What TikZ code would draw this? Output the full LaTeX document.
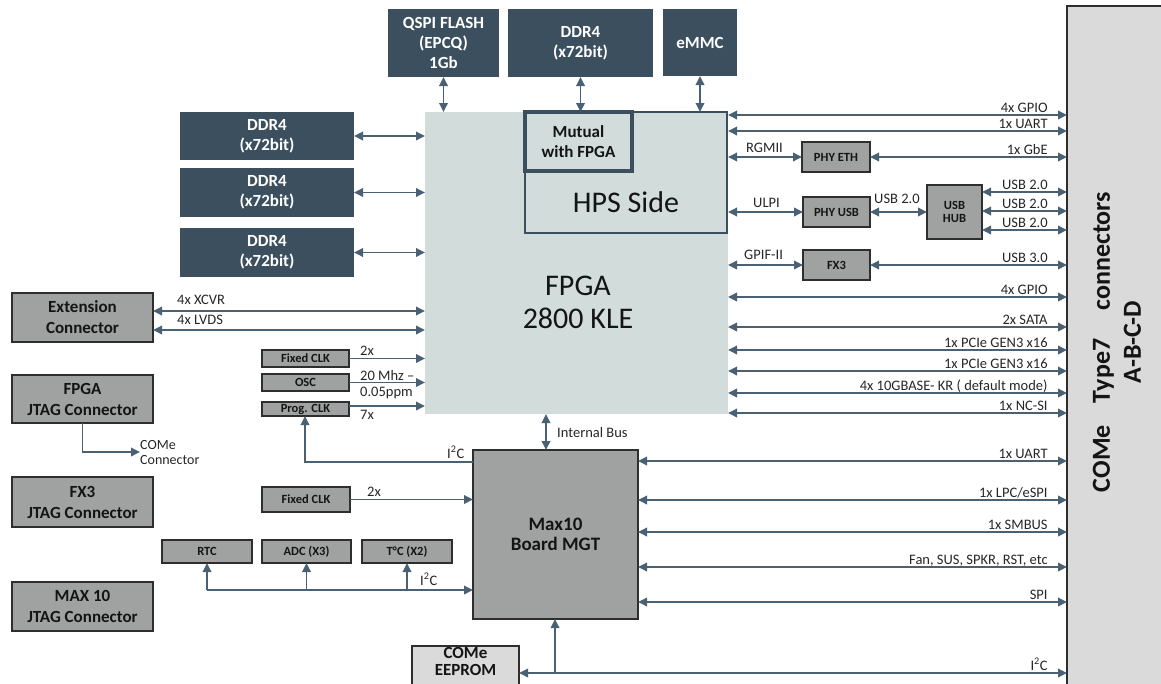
\documentclass[tikz,border=0pt]{standalone}
\usepackage{fontspec}
\setmainfont{Carlito}
\usetikzlibrary{arrows.meta,calc}
\definecolor{darkc}{HTML}{3B4F5E}
\definecolor{arrc}{HTML}{4A6073}
\definecolor{fpgac}{HTML}{D1DCDB}
\definecolor{greyc}{HTML}{A0A2A2}
\definecolor{comec}{HTML}{D9DAD9}
\definecolor{bordc}{HTML}{2E2E2E}
\definecolor{txtc}{HTML}{141414}
\definecolor{labc}{HTML}{262626}
\tikzset{
  >={Triangle[length=9pt,width=8.5pt]},
  conn/.style={draw=arrc, line width=1.8pt},
  biarr/.style={conn,<->},
  oarr/.style={conn,->},
  plainbox/.style={anchor=north west, inner sep=0pt, outer sep=0pt, align=center},
  darkbox/.style={plainbox, fill=darkc, text=white, font=\fontsize{17}{20}\selectfont\bfseries},
  greybox/.style={plainbox, fill=greyc, draw=bordc, line width=1.2pt, text=txtc, font=\fontsize{17}{21}\selectfont\bfseries},
  smallbox/.style={greybox, font=\fontsize{12.5}{14}\selectfont\bfseries},
  lab/.style={text=labc, font=\fontsize{14.5}{16}\selectfont, inner sep=0pt},
  rlab/.style={lab, anchor=base east, xshift=-18.5pt, yshift=3pt},
  llab/.style={lab, anchor=base west},
}
\begin{document}
\begin{tikzpicture}[x=1pt,y=-1pt]
\useasboundingbox (0,0) rectangle (1161,683);
% ---- COMe connector column
\node[plainbox, fill=comec, draw=bordc, line width=1.4pt, minimum width=110pt, minimum height=690pt] (come) at (1067,6) {};
\node[rotate=90, align=center, text=txtc, font=\fontsize{26}{31}\selectfont\bfseries] (cometxt) at (1117,342)
  {COMe\hspace{22pt}Type7\hspace{28pt}connectors\\A-B-C-D};
% ---- top memories
\node[darkbox, minimum width=111pt, minimum height=68pt] (qspi) at (388,9) {QSPI FLASH\\(EPCQ)\\1Gb};
\node[darkbox, minimum width=145pt, minimum height=68pt] (ddrt) at (508,9) {DDR4\\(x72bit)};
\node[darkbox, minimum width=74pt, minimum height=67pt] (emmc) at (663,9) {eMMC};
% ---- left DDR4
\node[darkbox, minimum width=174pt, minimum height=48pt] (ddr1) at (180,112) {DDR4\\(x72bit)};
\node[darkbox, minimum width=174pt, minimum height=49pt] (ddr2) at (180,168) {DDR4\\(x72bit)};
\node[darkbox, minimum width=174pt, minimum height=49pt] (ddr3) at (180,228) {DDR4\\(x72bit)};
% ---- FPGA
\node[plainbox, fill=fpgac, minimum width=303pt, minimum height=302pt] (fpga) at (425,112) {};
\node[plainbox, fill=fpgac, draw=darkc, line width=2.5pt, minimum width=202pt, minimum height=121pt] (hps) at (525,112) {};
\node[plainbox, fill=fpgac, draw=darkc, line width=3.5pt, minimum width=107pt, minimum height=59pt, text=txtc, font=\fontsize{17}{20}\selectfont\bfseries] (mutual) at (525,112) {Mutual\\with FPGA};
\node[text=txtc, font=\fontsize{30}{33}\selectfont, inner sep=0pt] (hpstxt) at (626,202) {HPS Side};
\node[text=txtc, align=center, font=\fontsize{30}{33}\selectfont, inner sep=0pt] (fpgatxt) at (578,302) {FPGA\\2800 KLE};
% ---- right side small blocks
\node[smallbox, minimum width=68pt, minimum height=30pt] (phyeth) at (802,142) {PHY ETH};
\node[smallbox, minimum width=67pt, minimum height=30pt] (phyusb) at (803,197) {PHY USB};
\node[smallbox, minimum width=55pt, minimum height=54pt, font=\fontsize{12.5}{13}\selectfont\bfseries] (hub) at (927,185) {USB\\HUB};
\node[smallbox, minimum width=67pt, minimum height=30pt] (fx3) at (803,250) {FX3};
% ---- left connectors
\node[greybox, minimum width=141pt, minimum height=49pt] (ext) at (12,293) {Extension\\Connector};
\node[greybox, minimum width=141pt, minimum height=48pt] (fjtag) at (12,375) {FPGA\\JTAG Connector};
\node[greybox, minimum width=141pt, minimum height=50pt] (xjtag) at (12,477) {FX3\\JTAG Connector};
\node[greybox, minimum width=141pt, minimum height=49pt] (mjtag) at (12,582) {MAX 10\\JTAG Connector};
% ---- clocks
\node[smallbox, minimum width=87pt, minimum height=17pt] (fclka) at (262,350) {Fixed CLK};
\node[smallbox, minimum width=87pt, minimum height=17pt] (osc) at (262,374) {OSC};
\node[smallbox, minimum width=87pt, minimum height=14pt] (pclk) at (262,402) {Prog. CLK};
\node[smallbox, minimum width=88pt, minimum height=25pt] (fclkb) at (262,487) {Fixed CLK};
% ---- sensors
\node[smallbox, minimum width=90pt, minimum height=23pt] (rtc) at (162,540) {RTC};
\node[smallbox, minimum width=89pt, minimum height=23pt] (adc) at (262,540) {ADC (X3)};
\node[smallbox, minimum width=90pt, minimum height=23pt] (tc) at (362,540) {T°C (X2)};
% ---- Max10 and EEPROM
\node[greybox, minimum width=165pt, minimum height=169pt, font=\fontsize{19}{20}\selectfont\bfseries] (max10) at (473,450) {Max10\\Board MGT};
\node[greybox, fill=comec, minimum width=107pt, minimum height=46pt, font=\fontsize{17}{18.5}\selectfont\bfseries] (eeprom) at (412,646)
  {\raisebox{6pt}[\height][\depth]{\begin{tabular}{@{}c@{}}COMe\\[-1.5pt]EEPROM\end{tabular}}};
\node[lab, align=left, font=\fontsize{14}{15}\selectfont, anchor=west] (comecon) at (140,452) {COMe\\Connector};

% ---- connectors: top
\draw[biarr] (qspi.south) -- (qspi.south |- fpga.north);
\draw[biarr] (ddrt.south) -- (ddrt.south |- mutual.north);
\draw[biarr] (emmc.south) -- (emmc.south |- hps.north);
% ---- left DDR
\draw[biarr] (ddr1.east) -- (ddr1.east -| fpga.west);
\draw[biarr] (ddr2.east) -- (ddr2.east -| fpga.west);
\draw[biarr] (ddr3.east) -- (ddr3.east -| fpga.west);
% ---- FPGA right direct lines
\foreach \y/\t in {115/4x GPIO, 131/1x UART, 297/4x GPIO, 327/2x SATA, 350/{1x PCIe GEN3 x16}, 371/{1x PCIe GEN3 x16}, 393/{4x 10GBASE- KR ( default mode)}, 413/1x NC-SI}{
  \coordinate (h) at (0,\y);
  \draw[biarr] (fpga.east |- h) -- (come.west |- h) node[rlab]{\t};
}
\draw[biarr] (fpga.east |- phyeth.west) -- (phyeth.west);
\draw[biarr] (phyeth.east) -- (phyeth.east -| come.west) node[rlab]{1x GbE};
\draw[biarr] (fpga.east |- phyusb.west) -- (phyusb.west);
\draw[biarr] (phyusb.east) -- (phyusb.east -| hub.west);
\foreach \y in {192,211,230}{
  \coordinate (h) at (0,\y);
  \draw[biarr] (hub.east |- h) -- (come.west |- h) node[rlab]{USB 2.0};
}
\draw[biarr] (fpga.east |- fx3.west) -- (fx3.west);
\draw[biarr] (fx3.east) -- (fx3.east -| come.west) node[rlab]{USB 3.0};
\node[llab] (lrgmii) at (746,152) {RGMII};
\node[llab] (lulpi) at (753,207) {ULPI};
\node[llab] (lgpif) at (744,259) {GPIF-II};
\node[llab] (lusb) at (874,203) {USB 2.0};
% ---- Max10 right lines
\foreach \y/\t in {461/1x UART, 500/{1x LPC/eSPI}, 532/1x SMBUS, 567/{Fan, SUS, SPKR, RST, etc}, 602/SPI}{
  \coordinate (h) at (0,\y);
  \draw[biarr] (max10.east |- h) -- (come.west |- h) node[rlab]{\t};
}
\coordinate (i2cb) at (555,673);
\draw[biarr] (eeprom.east |- i2cb) -- (come.west |- i2cb) node[rlab]{I\textsuperscript{2}C};
\draw[oarr] (i2cb) -- (i2cb |- max10.south);
% ---- internal bus
\coordinate (ib) at (546,0);
\draw[biarr] (fpga.south -| ib) -- (max10.north -| ib);
\node[llab] (libus) at (557,437) {Internal Bus};
% ---- extension connector
\coordinate (e1) at (0,311);
\coordinate (e2) at (0,330);
\draw[biarr] (ext.east |- e1) -- (fpga.west |- e1);
\draw[biarr] (ext.east |- e2) -- (fpga.west |- e2);
\node[llab] (lxcvr) at (177,304) {4x XCVR};
\node[llab] (llvds) at (177,324) {4x LVDS};
% ---- clocks
\draw[oarr] (fclka.east) -- (fclka.east -| fpga.west);
\draw[oarr] (osc.east) -- (osc.east -| fpga.west);
\coordinate (p1) at (0,406);
\draw[oarr] (pclk.east |- p1) -- (fpga.west |- p1);
\node[llab] (l2xa) at (360,355) {2x};
\node[llab] (lmhz) at (360,380) {20 Mhz –};
\node[llab] (lppm) at (360,396) {0.05ppm};
\node[llab] (l7x) at (360,419) {7x};
\coordinate (i2ca) at (305,462);
\draw[oarr] (max10.west |- i2ca) -| (pclk.south -| i2ca);
\node[llab] (li2ca) at (447,458) {I\textsuperscript{2}C};
\draw[oarr] (fclkb.east) -- (fclkb.east -| max10.west);
\node[llab] (l2xb) at (367,496) {2x};
% ---- I2C bus
\coordinate (bus) at (207,590);
\draw[oarr] (bus) -- (bus -| max10.west);
\draw[oarr] (bus) -- (bus |- rtc.south);
\draw[oarr] (adc.south |- bus) -- (adc.south);
\draw[oarr] (tc.south |- bus) -- (tc.south);
\node[llab] (li2cb) at (420,585) {I\textsuperscript{2}C};
% ---- JTAG
\draw[oarr] (fjtag.south) |- (comecon.west);
\end{tikzpicture}
\end{document}
